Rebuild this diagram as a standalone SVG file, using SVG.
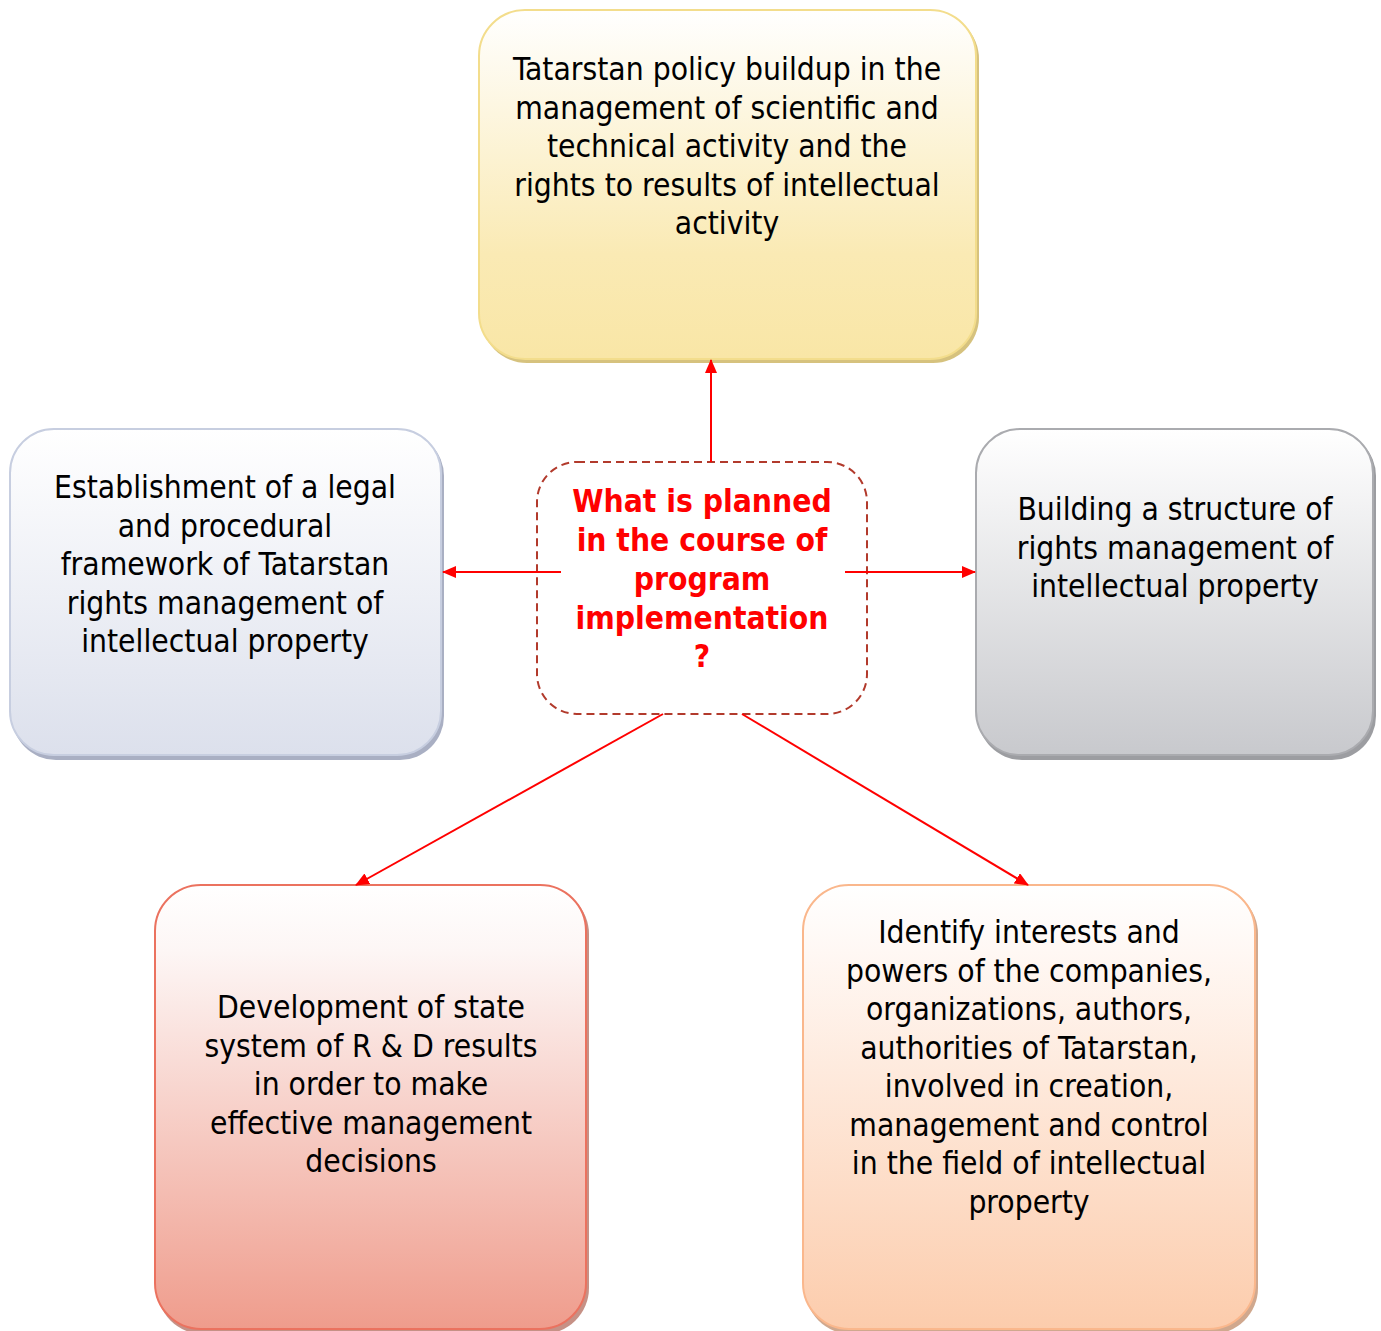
<svg xmlns="http://www.w3.org/2000/svg" width="1381" height="1331" viewBox="0 0 1381 1331">
<style>
.t{font-family:"DejaVu Sans Condensed","DejaVu Sans",sans-serif;font-stretch:condensed;font-size:31.5px;fill:#000;text-anchor:middle}
.q{font-family:"DejaVu Sans Condensed","DejaVu Sans",sans-serif;font-stretch:condensed;font-weight:bold;font-size:31.5px;fill:#FF0000;text-anchor:middle}
.c{stroke:#FF0000;stroke-width:2;fill:none;marker-end:url(#ah)}
</style>
<defs>
<linearGradient id="gy" x1="0" y1="0" x2="0" y2="1"><stop offset="0" stop-color="#FFFFFF"/><stop offset="0.7" stop-color="#FAEAB4"/><stop offset="1" stop-color="#F9E6A6"/></linearGradient>
<linearGradient id="gb" x1="0" y1="0" x2="0" y2="1"><stop offset="0" stop-color="#FFFFFF"/><stop offset="1" stop-color="#DCE0EC"/></linearGradient>
<linearGradient id="gg" x1="0" y1="0" x2="0" y2="1"><stop offset="0" stop-color="#FFFFFF"/><stop offset="1" stop-color="#C8C9CD"/></linearGradient>
<linearGradient id="gr" x1="0" y1="0" x2="0" y2="1"><stop offset="0" stop-color="#FFFFFF"/><stop offset="0.15" stop-color="#FDF6F5"/><stop offset="1" stop-color="#EF9C8C"/></linearGradient>
<linearGradient id="go" x1="0" y1="0" x2="0" y2="1"><stop offset="0" stop-color="#FFFFFF"/><stop offset="0.15" stop-color="#FFF8F4"/><stop offset="1" stop-color="#FCCCAC"/></linearGradient>
<marker id="ah" viewBox="0 0 14 12" refX="13" refY="6" markerWidth="14" markerHeight="12" markerUnits="userSpaceOnUse" orient="auto"><path d="M0,0 L14,6 L0,12 Z" fill="#FF0000"/></marker>
</defs>

<g id="node-top">
<rect x="481" y="13" width="498" height="350" rx="46" fill="#D6C27E"/>
<rect x="479" y="10" width="497" height="349" rx="46" fill="url(#gy)" stroke="#F3DD8C" stroke-width="2"/>
<text class="t"><tspan x="727" y="80">Tatarstan policy buildup in the</tspan><tspan x="727" y="118.5">management of scientific and</tspan><tspan x="727" y="157">technical activity and the</tspan><tspan x="727" y="195.5">rights to results of intellectual</tspan><tspan x="727" y="234">activity</tspan></text>
</g>

<g id="node-left">
<rect x="12" y="432" width="432" height="328" rx="44" fill="#A9AFC3"/>
<rect x="10" y="429" width="431" height="326" rx="44" fill="url(#gb)" stroke="#C7CEE0" stroke-width="2"/>
<text class="t"><tspan x="225" y="498">Establishment of a legal</tspan><tspan x="225" y="536.5">and procedural</tspan><tspan x="225" y="575">framework of Tatarstan</tspan><tspan x="225" y="613.5">rights management of</tspan><tspan x="225" y="652">intellectual property</tspan></text>
</g>

<g id="node-right">
<rect x="978" y="432" width="398" height="328" rx="44" fill="#9C9DA1"/>
<rect x="976" y="429" width="397" height="326" rx="44" fill="url(#gg)" stroke="#AAABAF" stroke-width="2"/>
<text class="t"><tspan x="1175" y="520">Building a structure of</tspan><tspan x="1175" y="558.5">rights management of</tspan><tspan x="1175" y="597">intellectual property</tspan></text>
</g>

<g id="node-center">
<rect x="537" y="462" width="330" height="252" rx="40" fill="#FFFFFF" stroke="#B23A2C" stroke-width="2" stroke-dasharray="8,5"/>
<text class="q"><tspan x="702" y="512">What is planned</tspan><tspan x="702" y="551">in the course of</tspan><tspan x="702" y="590">program</tspan><tspan x="702" y="629">implementation</tspan><tspan x="702" y="667">?</tspan></text>
</g>

<g id="node-bottom-left">
<rect x="157" y="888" width="432" height="446" rx="46" fill="#C69186"/>
<rect x="155" y="885" width="431" height="444" rx="46" fill="url(#gr)" stroke="#EB725F" stroke-width="2"/>
<text class="t"><tspan x="371" y="1018">Development of state</tspan><tspan x="371" y="1056.5">system of R &amp; D results</tspan><tspan x="371" y="1095">in order to make</tspan><tspan x="371" y="1133.5">effective management</tspan><tspan x="371" y="1172">decisions</tspan></text>
</g>

<g id="node-bottom-right">
<rect x="805" y="888" width="453" height="446" rx="46" fill="#D0A88E"/>
<rect x="803" y="885" width="452" height="444" rx="46" fill="url(#go)" stroke="#FAB78C" stroke-width="2"/>
<text class="t"><tspan x="1029" y="943">Identify interests and</tspan><tspan x="1029" y="981.5">powers of the companies,</tspan><tspan x="1029" y="1020">organizations, authors,</tspan><tspan x="1029" y="1058.5">authorities of Tatarstan,</tspan><tspan x="1029" y="1097">involved in creation,</tspan><tspan x="1029" y="1135.5">management and control</tspan><tspan x="1029" y="1174">in the field of intellectual</tspan><tspan x="1029" y="1212.5">property</tspan></text>
</g>

<g id="connectors">
<line class="c" x1="711" y1="462" x2="711" y2="360"/>
<line class="c" x1="561" y1="572" x2="443" y2="572"/>
<line class="c" x1="845" y1="572" x2="975" y2="572"/>
<line class="c" x1="663" y1="714" x2="356" y2="885"/>
<line class="c" x1="742" y1="714" x2="1028" y2="885"/>
</g>
</svg>
